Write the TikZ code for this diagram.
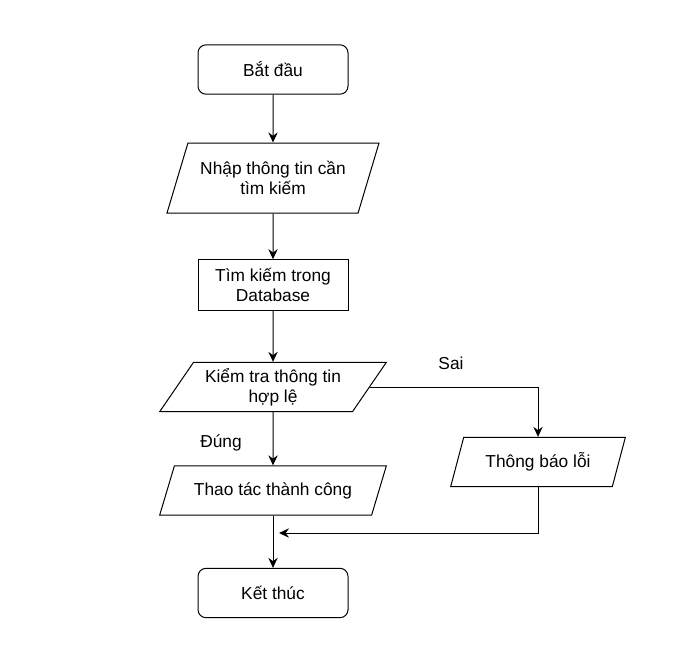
\documentclass[tikz,border=0pt]{standalone}
\usepackage{fontspec}
\setmainfont{Liberation Sans}
\usepackage{tikz}
\usetikzlibrary{shapes.geometric,arrows.meta}

\begin{document}
\begin{tikzpicture}[x=0.75pt,y=-0.75pt,font=\fontsize{13}{15}\selectfont,
    >={Stealth[length=7.5pt,width=7pt,inset=2.5pt]},line width=0.75pt,
    term/.style={draw,rounded corners=6pt,minimum width=112.5pt,minimum height=37pt},
    proc/.style={draw,minimum width=112.5pt,minimum height=38pt,align=center},
    io/.style={draw,trapezium,trapezium stretches body,inner sep=0pt,align=center}]
    \useasboundingbox (0,0) rectangle (698,664);
    \node[term] (1) at (273,69.5) {Bắt đầu};
    \node[io,trapezium left angle=58,trapezium right angle=122,
          minimum width=159pt,minimum height=52.5pt] (2) at (273,178) {Nhập thông tin cần\\tìm kiếm};
    \node[proc] (3) at (273,285) {Tìm kiếm trong\\Database};
    \node[io,trapezium left angle=48,trapezium right angle=132,
          minimum width=170pt,minimum height=37pt] (4) at (273,387) {Kiểm tra thông tin\\hợp lệ};
    \node[io,trapezium left angle=48,trapezium right angle=132,
          minimum width=170pt,minimum height=37pt] (5) at (273,490.5) {Thao tác thành công};
    \node[io,trapezium left angle=55,trapezium right angle=125,
          minimum width=131pt,minimum height=37pt] (6) at (538,462) {Thông báo lỗi};
    \node[term] (7) at (273,593) {Kết thúc};
    \coordinate (8) at (279,533);
    \node (sai) at (451,363) {Sai};
    \node (dung) at (221,443) {Đúng};
    \draw[->] (1) to (2);
    \draw[->] (2) to (3);
    \draw[->] (3) to (4);
    \draw[->] (4) to (5);
    \draw[->] (5) to (7);
    \draw[->] (4) -| (6);
    \draw[->] (6) |- (8);
\end{tikzpicture}
\end{document}
